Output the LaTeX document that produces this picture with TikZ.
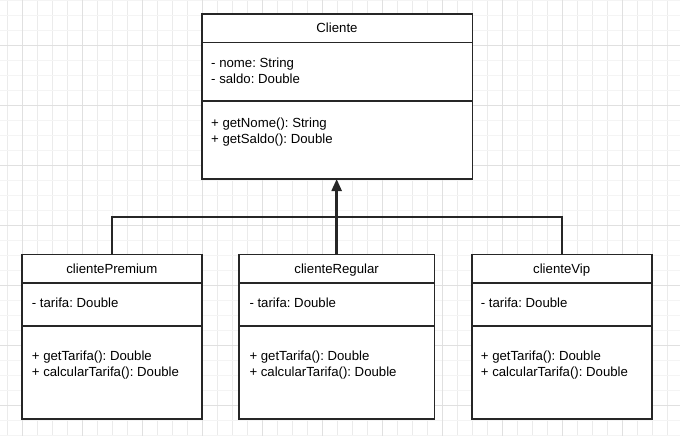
\documentclass[tikz,border=0pt]{standalone}
\usepackage{fontspec}
\setmainfont{Liberation Sans}
\frenchspacing
\usetikzlibrary{arrows.meta,positioning}
\newcommand{\umlfont}{\fontsize{13.2}{16}\selectfont}
\definecolor{gridv}{HTML}{EBEBEB}
\definecolor{gridh}{HTML}{F4F4F4}
\definecolor{gridmaj}{HTML}{E0E0E0}
\definecolor{ink}{HTML}{262626}
\tikzset{
  head/.style={draw=ink, fill=white, line width=1.6pt, inner sep=0pt, outer sep=0pt,
    minimum height=28.4pt, text height=10.5pt, text depth=1.5pt, font=\umlfont},
  part/.style={draw=ink, fill=white, line width=1.6pt, inner sep=0pt, outer sep=0pt},
  txt/.style={inner sep=0pt, align=left, font=\umlfont},
  link/.style={draw=ink, line width=1.8pt},
  arrow/.style={-{Triangle[length=12pt, width=10pt]}, draw=ink, line width=2.4pt},
}

\begin{document}
\begin{tikzpicture}[x=1pt, y=-1pt]
  \useasboundingbox (0,0) rectangle (680,436);
  % background grid
  \foreach \gx in {7.3,22.3,...,680} \draw[gridv, line width=0.8pt] (\gx,0) -- (\gx,436);
  \foreach \gy in {0,15,...,436} \draw[gridh, line width=0.8pt] (0,\gy) -- (680,\gy);
  \foreach \gx in {22.3,82.3,...,680} \draw[gridmaj, line width=0.8pt] (\gx,0) -- (\gx,436);
  \foreach \gy in {45,105,...,436} \draw[gridmaj, line width=0.8pt] (0,\gy) -- (680,\gy);

  % superclass
  \node[head, minimum width=270.6pt, anchor=north west] (cli-H) at (201.7,14.3) {Cliente};
  \node[part, minimum width=270.6pt, minimum height=58pt, below=0pt of cli-H] (cli-A) {};
  \node[part, minimum width=270.6pt, minimum height=78.3pt, below=0pt of cli-A] (cli-M) {};
  \node[txt, below right=14.9pt and 9.3pt of cli-A.north west] (cli-At) {- nome: String\\- saldo: Double};
  \node[txt, below right=16.6pt and 9.3pt of cli-M.north west] (cli-Mt) {+ getNome(): String\\+ getSaldo(): Double};

  % subclasses
  \foreach \nm/\ttl/\xx/\ww/\dx in {pre/clientePremium/21.7/180.3/10, reg/clienteRegular/239/195.3/10.3, vip/clienteVip/471.7/180/9}{
    \node[head, minimum width=\ww pt, anchor=north west] (\nm-H) at (\xx,254.3) {\ttl};
    \node[part, minimum width=\ww pt, minimum height=43.3pt, below=0pt of \nm-H] (\nm-A) {};
    \node[part, minimum width=\ww pt, minimum height=93pt, below=0pt of \nm-A] (\nm-M) {};
    \node[txt, below right=14.9pt and \dx pt of \nm-A.north west] (\nm-At) {- tarifa: Double};
    \node[txt, below right=24.3pt and \dx pt of \nm-M.north west] (\nm-Mt) {+ getTarifa(): Double\\+ calcularTarifa(): Double};
  }

  % inheritance
  \coordinate (bus) at (0,216.7);
  \draw[link] (pre-H.north) |- (bus -| vip-H.north) -- (vip-H.north);
  \draw[arrow] (reg-H.north) -- (reg-H.north |- cli-M.south);
\end{tikzpicture}
\end{document}
